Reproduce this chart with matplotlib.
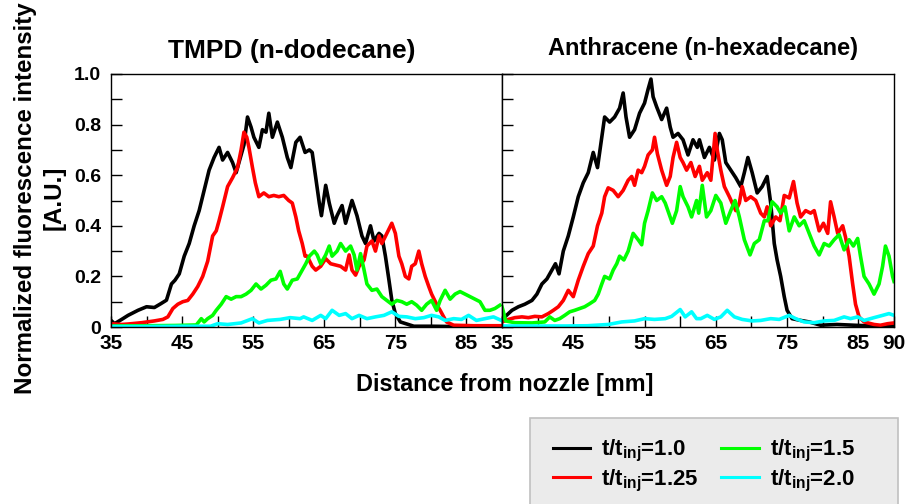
import matplotlib
matplotlib.use("Agg")
import matplotlib.pyplot as plt
from matplotlib.lines import Line2D
from matplotlib.patches import Rectangle

plt.rcParams["font.family"] = ["Liberation Sans", "DejaVu Sans"]
plt.rcParams["font.weight"] = "bold"
plt.rcParams["mathtext.fontset"] = "custom"
plt.rcParams["mathtext.rm"] = "Liberation Sans:bold"
plt.rcParams["mathtext.bf"] = "Liberation Sans:bold"
plt.rcParams["mathtext.default"] = "bf"

# ---- data (distance [mm], normalized intensity) ----
series_labels = [r"t/t$_{\mathbf{inj}}$=1.0", r"t/t$_{\mathbf{inj}}$=1.25",
                 r"t/t$_{\mathbf{inj}}$=1.5", r"t/t$_{\mathbf{inj}}$=2.0"]
series_colors = ["#000000", "#ff0000", "#00ff00", "#00ffff"]

# TMPD (n-dodecane)
tmpd_x_10 = [35, 35.5, 36.5, 37.4, 38.8, 40, 41.1, 42, 42.8, 43.5, 44, 44.6, 45.3, 46, 46.7,
             47.4, 48.1, 48.8, 49.5, 50.2, 50.7, 51.4, 52.1, 52.6, 53, 53.7, 54.2, 54.7, 55.1,
             55.8, 56.3, 56.8, 57.2, 57.7, 58.4, 59.1, 59.8, 60.3, 61, 61.6, 62.3, 62.9, 63.3,
             63.8, 64.3, 64.6, 65.2, 65.7, 66.4, 66.8, 67.5, 68, 68.9, 69.6, 70.3, 70.8, 71.5,
             72, 72.7, 73.1, 73.6, 74.1, 74.5, 75, 75.7, 77.6, 80, 83, 86, 90]
tmpd_y_10 = [0.026, 0.013, 0.03, 0.046, 0.066, 0.08, 0.077, 0.092, 0.106, 0.17, 0.185, 0.21,
             0.28, 0.33, 0.40, 0.46, 0.54, 0.62, 0.67, 0.71, 0.66, 0.69, 0.65, 0.61, 0.65, 0.72,
             0.83, 0.79, 0.75, 0.71, 0.78, 0.77, 0.845, 0.75, 0.81, 0.75, 0.67, 0.63, 0.73, 0.75,
             0.69, 0.70, 0.69, 0.59, 0.49, 0.44, 0.56, 0.49, 0.41, 0.44, 0.48, 0.41, 0.50, 0.44,
             0.36, 0.33, 0.40, 0.34, 0.37, 0.36, 0.28, 0.185, 0.106, 0.053, 0.02, 0.003, 0.003,
             0.002, 0.002, 0.001]

tmpd_x_125 = [35, 36.5, 37.5, 39.3, 41.1, 42.3, 43, 43.7, 44.4, 45.1, 45.8, 46.5, 47.2, 47.9,
              48.6, 49.3, 49.8, 50.2, 50.7, 51.4, 52.1, 52.8, 53.3, 53.7, 54.1, 54.4, 54.9, 55.3,
              55.8, 56.5, 57.2, 57.9, 58.6, 59.3, 60, 60.5, 61, 61.4, 61.9, 62.3, 62.6, 63.3,
              63.8, 64.5, 65.2, 65.9, 66.6, 67.3, 68, 68.5, 68.9, 69.4, 69.9, 70.6, 71, 71.7,
              72.2, 72.7, 73.1, 73.8, 74.5, 75, 75.5, 75.9, 76.4, 76.9, 77.3, 77.8, 78.3, 78.7,
              79.2, 79.7, 80.1, 80.8, 81.3, 81.8, 82.2, 83.2, 86, 90]
tmpd_y_125 = [0.013, 0.01, 0.012, 0.017, 0.024, 0.03, 0.04, 0.073, 0.09, 0.10, 0.105, 0.13, 0.16,
              0.20, 0.26, 0.36, 0.38, 0.42, 0.475, 0.555, 0.59, 0.63, 0.70, 0.77, 0.75, 0.71,
              0.63, 0.57, 0.515, 0.53, 0.515, 0.52, 0.515, 0.52, 0.50, 0.49, 0.435, 0.38, 0.33,
              0.28, 0.28, 0.24, 0.225, 0.24, 0.27, 0.25, 0.245, 0.24, 0.225, 0.285, 0.225, 0.205,
              0.24, 0.265, 0.32, 0.34, 0.30, 0.36, 0.33, 0.37, 0.41, 0.37, 0.28, 0.25, 0.20, 0.19,
              0.24, 0.25, 0.30, 0.25, 0.20, 0.16, 0.13, 0.09, 0.066, 0.04, 0.02, 0.007, 0.005,
              0.005]

tmpd_x_15 = [35, 40, 44, 47, 47.7, 48.1, 48.6, 49.3, 49.8, 50.5, 51.2, 51.9, 52.6, 53.3, 54,
             54.7, 55.4, 56.1, 56.8, 57.5, 58.2, 58.8, 59.3, 59.8, 60.5, 61.2, 61.9, 62.4, 62.9,
             63.6, 64, 64.5, 65.2, 65.7, 66.1, 66.8, 67.3, 68, 68.7, 69.2, 69.6, 70.1, 70.6, 71,
             71.7, 72.4, 73.1, 73.8, 74.5, 75.2, 75.9, 76.6, 77.3, 78, 78.7, 79.4, 80.1, 80.8,
             81.3, 82, 82.7, 83.4, 84.1, 84.8, 85.5, 86.2, 86.9, 87.6, 88.3, 89, 89.7]
tmpd_y_15 = [0.004, 0.005, 0.006, 0.008, 0.033, 0.02, 0.033, 0.046, 0.066, 0.09, 0.12, 0.11, 0.12,
             0.12, 0.13, 0.145, 0.17, 0.15, 0.165, 0.185, 0.19, 0.22, 0.17, 0.15, 0.185, 0.19,
             0.225, 0.25, 0.28, 0.30, 0.285, 0.25, 0.285, 0.32, 0.28, 0.30, 0.33, 0.30, 0.32,
             0.285, 0.225, 0.29, 0.225, 0.17, 0.145, 0.15, 0.12, 0.105, 0.09, 0.105, 0.10, 0.09,
             0.10, 0.086, 0.066, 0.09, 0.105, 0.066, 0.105, 0.145, 0.11, 0.13, 0.14, 0.13, 0.12,
             0.11, 0.10, 0.066, 0.066, 0.073, 0.086]

tmpd_x_20 = [35, 40, 45, 49, 50, 51.4, 53.3, 54.9, 55.8, 57, 58.8, 60.2, 61.6, 62.1, 63.3, 64.5,
             65.2, 66.1, 67.1, 68, 68.9, 69.9, 71, 72.2, 73.4, 74.5, 75.5, 76.6, 77.8, 79, 80.1,
             81.1, 82, 83.2, 84.3, 85.3, 86.4, 87.6, 88.8, 89.9]
tmpd_y_20 = [0.002, 0.002, 0.003, 0.003, 0.013, 0.01, 0.016, 0.033, 0.016, 0.026, 0.03, 0.037,
             0.033, 0.04, 0.026, 0.046, 0.033, 0.066, 0.046, 0.053, 0.033, 0.046, 0.033, 0.04,
             0.046, 0.06, 0.042, 0.04, 0.033, 0.037, 0.046, 0.04, 0.026, 0.033, 0.03, 0.046,
             0.026, 0.033, 0.04, 0.026]

# Anthracene (n-hexadecane)
anth_x_10 = [35, 35.4, 36.4, 37.3, 38.2, 39.2, 39.9, 40.6, 41.3, 42, 42.5, 43, 43.6, 44.3, 45,
             45.7, 46.4, 47.1, 47.8, 48.4, 49, 49.4, 50.1, 50.8, 51.5, 52, 52.4, 52.9, 53.6, 54.3,
             55, 55.5, 55.9, 56.2, 56.7, 57.4, 58.1, 58.6, 59, 59.7, 60.4, 61.1, 61.8, 62.4, 62.7,
             63.4, 64.1, 64.8, 65.5, 65.9, 66.4, 67.1, 67.8, 68.5, 69, 69.5, 70.1, 70.8, 71.5,
             72.2, 72.7, 73.2, 73.6, 74.1, 74.6, 75, 75.7, 76.9, 78.1, 79.7, 82, 84.4, 87, 90]
anth_y_10 = [0.053, 0.04, 0.066, 0.08, 0.09, 0.105, 0.13, 0.17, 0.19, 0.225, 0.25, 0.21, 0.30,
             0.36, 0.435, 0.515, 0.57, 0.61, 0.69, 0.63, 0.75, 0.83, 0.81, 0.83, 0.865, 0.925,
             0.83, 0.75, 0.78, 0.845, 0.885, 0.94, 0.98, 0.91, 0.87, 0.82, 0.865, 0.79, 0.75,
             0.765, 0.74, 0.68, 0.74, 0.71, 0.74, 0.67, 0.71, 0.66, 0.765, 0.74, 0.65, 0.62,
             0.59, 0.555, 0.61, 0.67, 0.61, 0.53, 0.555, 0.595, 0.49, 0.33, 0.265, 0.20, 0.12,
             0.066, 0.033, 0.026, 0.02, 0.007, 0.01, 0.007, 0.004, 0.004]

anth_x_125 = [35, 35.9, 36.8, 37.8, 38.7, 39.6, 40.6, 41.5, 42.2, 42.9, 43.6, 44.3, 45, 45.7,
              46.4, 47.1, 47.8, 48.4, 49, 49.4, 49.9, 50.6, 51.3, 52, 52.7, 53.2, 53.6, 54.1,
              54.6, 55, 55.5, 56.1, 56.4, 56.8, 57.4, 58.1, 58.6, 59, 59.5, 60, 60.4, 60.9, 61.5,
              62.1, 62.7, 63.1, 63.8, 64.3, 64.9, 65.2, 65.7, 66.2, 66.9, 67.3, 67.8, 68.3, 68.7,
              69.2, 69.9, 70.6, 71.3, 71.8, 72.2, 72.7, 73.4, 74, 74.6, 75.3, 75.9, 76.4, 76.9,
              77.6, 78.3, 78.8, 79.5, 80.1, 80.7, 81.1, 81.6, 82.1, 82.8, 83.2, 83.7, 84.2, 84.6,
              85.1, 85.8, 87.2, 88.1, 89.1, 90]
anth_y_125 = [0.02, 0.03, 0.037, 0.04, 0.037, 0.042, 0.04, 0.053, 0.066, 0.08, 0.105, 0.145, 0.12,
              0.185, 0.24, 0.29, 0.32, 0.40, 0.45, 0.515, 0.55, 0.54, 0.515, 0.54, 0.58, 0.595,
              0.56, 0.62, 0.61, 0.635, 0.68, 0.70, 0.75, 0.685, 0.62, 0.56, 0.595, 0.67, 0.73,
              0.67, 0.65, 0.62, 0.65, 0.595, 0.635, 0.58, 0.61, 0.58, 0.765, 0.70, 0.62, 0.555,
              0.515, 0.49, 0.46, 0.49, 0.555, 0.50, 0.515, 0.50, 0.45, 0.435, 0.475, 0.40, 0.435,
              0.42, 0.52, 0.51, 0.575, 0.49, 0.435, 0.46, 0.45, 0.46, 0.38, 0.41, 0.37, 0.495,
              0.435, 0.37, 0.40, 0.355, 0.28, 0.17, 0.09, 0.04, 0.02, 0.01, 0.007, 0.013, 0.016]

anth_x_15 = [35, 35.2, 35.5, 36.8, 39.2, 41, 41.7, 42.4, 43.1, 43.8, 44.5, 45.2, 45.9, 46.6, 47.3,
             48, 48.5, 49, 49.4, 50.1, 50.6, 51.1, 51.5, 52.1, 52.7, 53.4, 54.1, 54.6, 55, 55.5,
             56.1, 56.7, 57.4, 57.9, 58.4, 58.9, 59.5, 60, 60.4, 61.1, 61.6, 62.3, 62.6, 63.1,
             63.7, 64.3, 65, 65.7, 66.4, 67.1, 67.7, 68.3, 69, 69.8, 70.4, 71.1, 71.8, 72.3, 72.9,
             73.6, 74.1, 74.7, 75.3, 76, 76.7, 77.4, 78.1, 78.8, 79.5, 80.2, 80.9, 81.6, 82.3, 83,
             83.7, 84.3, 84.9, 85.3, 85.8, 86.5, 87.2, 87.9, 88.4, 88.8, 89.3, 89.8, 90]
anth_y_15 = [0.08, 0.06, 0.024, 0.017, 0.016, 0.02, 0.04, 0.026, 0.033, 0.046, 0.06, 0.066, 0.073,
             0.08, 0.092, 0.105, 0.13, 0.17, 0.20, 0.19, 0.225, 0.25, 0.28, 0.265, 0.30, 0.37,
             0.345, 0.325, 0.41, 0.46, 0.53, 0.50, 0.515, 0.49, 0.45, 0.41, 0.46, 0.555, 0.515,
             0.475, 0.435, 0.50, 0.45, 0.56, 0.435, 0.46, 0.52, 0.49, 0.41, 0.46, 0.50, 0.435,
             0.345, 0.285, 0.33, 0.345, 0.42, 0.42, 0.495, 0.475, 0.45, 0.475, 0.38, 0.435, 0.40,
             0.42, 0.37, 0.32, 0.285, 0.33, 0.32, 0.345, 0.365, 0.305, 0.345, 0.32, 0.35, 0.28,
             0.20, 0.17, 0.13, 0.17, 0.24, 0.32, 0.28, 0.20, 0.18]

anth_x_20 = [35, 40, 44, 47, 49.9, 51.8, 53.6, 55, 56.4, 57.9, 58.8, 60, 60.7, 61.6, 62.3, 62.9,
             63.8, 64.8, 65.7, 66.6, 67.6, 68.7, 70.1, 71.3, 72.7, 73.9, 75.3, 76.2, 77.4, 78.8,
             80.2, 81.6, 83, 83.9, 84.9, 85.8, 87.2, 88.4, 89.3, 90]
anth_y_20 = [0.004, 0.004, 0.004, 0.005, 0.01, 0.02, 0.024, 0.033, 0.03, 0.033, 0.042, 0.069, 0.04,
             0.06, 0.033, 0.033, 0.046, 0.03, 0.04, 0.066, 0.04, 0.03, 0.024, 0.026, 0.033, 0.03,
             0.046, 0.033, 0.02, 0.017, 0.024, 0.026, 0.04, 0.033, 0.04, 0.026, 0.037, 0.046,
             0.053, 0.046]

x_ticks = [35, 40, 45, 50, 55, 60, 65, 70, 75, 80, 85, 90]
x_labels_left = ["35", "", "45", "", "55", "", "65", "", "75", "", "85", ""]
x_labels_right = ["35", "", "45", "", "55", "", "65", "", "75", "", "85", "90"]
y_ticks = [0, 0.1, 0.2, 0.3, 0.4, 0.5, 0.6, 0.7, 0.8, 0.9, 1.0]
y_labels = ["0", "", "0.2", "", "0.4", "", "0.6", "", "0.8", "", "1.0"]

W, H = 911, 504
fig = plt.figure(figsize=(W / 100, H / 100), dpi=100)


def add_px_axes(x0, x1, y0, y1):
    return fig.add_axes([x0 / W, 1 - y1 / H, (x1 - x0) / W, (y1 - y0) / H])


def style_axes(ax, xlabels, show_y):
    ax.set_xlim(35, 90)
    ax.set_ylim(0, 1)
    ax.set_xticks(x_ticks, xlabels)
    ax.set_yticks(y_ticks, y_labels if show_y else [""] * len(y_ticks))
    ax.tick_params(axis="both", direction="in", length=8, width=1, color="black")
    ax.tick_params(axis="x", labelsize=15, pad=5)
    ax.tick_params(axis="y", labelsize=14, pad=7)
    for s in ax.spines.values():
        s.set_linewidth(1.0)
        s.set_color("black")


ax1 = add_px_axes(111, 502, 74, 327)
ax2 = add_px_axes(502, 894, 74, 327)

tmpd = [(tmpd_x_10, tmpd_y_10), (tmpd_x_125, tmpd_y_125), (tmpd_x_15, tmpd_y_15), (tmpd_x_20, tmpd_y_20)]
anth = [(anth_x_10, anth_y_10), (anth_x_125, anth_y_125), (anth_x_15, anth_y_15), (anth_x_20, anth_y_20)]

for (x, y), c in zip(tmpd, series_colors):
    ax1.plot(x, y, color=c, lw=2.6)
for (x, y), c in zip(anth, series_colors):
    ax2.plot(x, y, color=c, lw=2.6)

style_axes(ax1, x_labels_left, True)
style_axes(ax2, x_labels_right, False)

fig.text(292 / W, 1 - 51 / H, "TMPD (n-dodecane)", ha="center", va="center",
         fontsize=19, fontweight="bold")
fig.text(703 / W, 1 - 48 / H, "Anthracene (n-hexadecane)", ha="center", va="center",
         fontsize=17, fontweight="bold")
fig.text(40 / W, 1 - 198 / H, "Normalized fluorescence intensity\n[A.U.]", rotation=90,
         ha="center", va="center", multialignment="center", fontsize=17.4,
         fontweight="bold", linespacing=1.3)
fig.text(505 / W, 1 - 385 / H, "Distance from nozzle [mm]", ha="center", va="center",
         fontsize=16.8, fontweight="bold")

# legend box
fig.patches.append(Rectangle((530 / W, -0.02), 368 / W, 0.02 + 1 - 418 / H,
                             transform=fig.transFigure, facecolor="#ebebeb",
                             edgecolor="#c0c0c0", linewidth=1.2))
handles = [Line2D([], [], color=c, lw=2.2) for c in series_colors]
fig.legend(handles, series_labels, ncol=2, frameon=False, loc="center",
           bbox_to_anchor=(704 / W, 1 - 466 / H), fontsize=16, handlelength=1.7,
           handletextpad=0.5, columnspacing=1.0, labelspacing=0.15)

fig.savefig("out.png", dpi=100)
